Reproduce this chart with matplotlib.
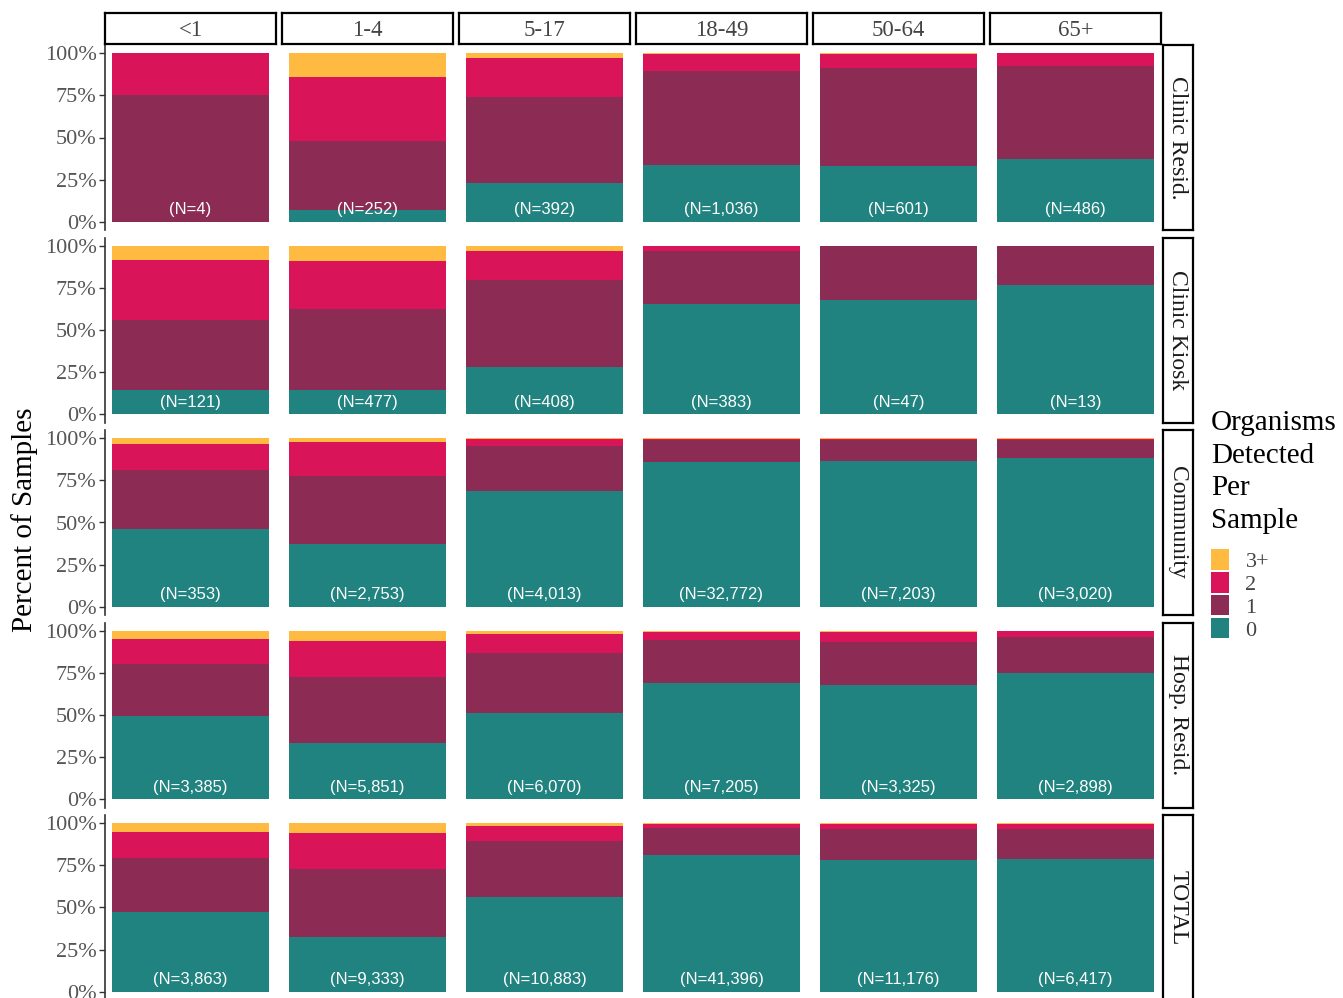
import matplotlib
matplotlib.use("Agg")
import matplotlib.pyplot as plt
from matplotlib.patches import Patch

# facets
ages = ["<1", "1-4", "5-17", "18-49", "50-64", "65+"]
sites = ["Clinic Resid.", "Clinic Kiosk", "Community", "Hosp. Resid.", "TOTAL"]
categories = ["0", "1", "2", "3+"]
colors = ["#21837F", "#8C2C55", "#DA1458", "#FFBA42"]

# percent of samples, one row per site, one value per age group
pct_0 = [[0, 7, 23, 33.4, 32.8, 37.1],
         [14.4, 14.4, 27.9, 65.3, 68.1, 76.9],
         [46.2, 37.1, 68.8, 86.0, 86.6, 88.4],
         [49.4, 33.4, 51.2, 68.9, 67.7, 75.0],
         [47.6, 32.7, 56.1, 81.0, 78.0, 78.6]]
pct_1 = [[75, 41, 51, 56.4, 58.7, 55.2],
         [41.7, 47.8, 51.6, 31.7, 31.9, 23.1],
         [35.3, 40.7, 26.5, 12.9, 12.3, 10.5],
         [31.1, 39.0, 35.8, 25.8, 25.6, 21.3],
         [32.0, 40.4, 33.5, 16.4, 18.8, 18.2]]
pct_2 = [[25, 38, 23, 9.9, 8.2, 7.7],
         [35.4, 28.8, 17.5, 3.0, 0, 0],
         [15.3, 19.8, 4.6, 1.0, 1.0, 1.0],
         [14.6, 21.5, 11.2, 4.9, 6.3, 3.6],
         [15.5, 21.4, 9.0, 2.4, 2.6, 3.1]]
pct_3 = [[0, 14, 3, 0.3, 0.3, 0],
         [8.5, 9.0, 3.0, 0, 0, 0],
         [3.2, 2.4, 0.1, 0.1, 0.1, 0.1],
         [4.9, 6.1, 1.8, 0.4, 0.4, 0.1],
         [4.9, 5.5, 1.4, 0.2, 0.6, 0.1]]
n_samples = [[4, 252, 392, 1036, 601, 486],
             [121, 477, 408, 383, 47, 13],
             [353, 2753, 4013, 32772, 7203, 3020],
             [3385, 5851, 6070, 7205, 3325, 2898],
             [3863, 9333, 10883, 41396, 11176, 6417]]

W, H = 1343, 998
fig = plt.figure(figsize=(W / 100, H / 100), dpi=100)
serif = "Liberation Serif"

def px_axes(x, y, w, h):
    return fig.add_axes([x / W, 1 - (y + h) / H, w / W, h / H])

col_x0, col_step, col_w = 105, 177, 171
row_y0, row_step, row_h = 45, 192.5, 185

for r, site in enumerate(sites):
    ytop = row_y0 + r * row_step
    for c, age in enumerate(ages):
        ax = px_axes(col_x0 + c * col_step, ytop, col_w, row_h)
        bottom = 0
        for vals, col in zip([pct_0, pct_1, pct_2, pct_3], colors):
            v = vals[r][c]
            ax.bar(0, v, width=0.9, bottom=bottom, color=col, linewidth=0)
            bottom += v
        ax.text(0, 7, f"(N={n_samples[r][c]:,})", ha="center", va="center",
                color="white", fontsize=12, family="Liberation Sans")
        ax.set_xlim(-0.493, 0.493)
        ax.set_ylim(-5, 105)
        ax.set_xticks([])
        for s in ["top", "right", "bottom"]:
            ax.spines[s].set_visible(False)
        if c == 0:
            ax.set_yticks([0, 25, 50, 75, 100])
            ax.set_yticklabels(["0%", "25%", "50%", "75%", "100%"],
                               family=serif, fontsize=16, color="#555555")
            ax.tick_params(axis="y", length=4, width=1, color="#333333", pad=2)
            ax.spines["left"].set_color("#333333")
            ax.spines["left"].set_linewidth(1.2)
        else:
            ax.set_yticks([])
            ax.spines["left"].set_visible(False)
        ax.patch.set_alpha(0)

        # column strip
        if r == 0:
            sax = px_axes(col_x0 + c * col_step, 13, col_w, 31)
            sax.set_xticks([]); sax.set_yticks([])
            for sp in sax.spines.values():
                sp.set_linewidth(1.6)
            sax.text(0.5, 0.45, age, ha="center", va="center",
                     family=serif, fontsize=16.5, color="#444444")

    # row strip
    rax = px_axes(1163, ytop, 30, row_h)
    rax.set_xticks([]); rax.set_yticks([])
    for sp in rax.spines.values():
        sp.set_linewidth(1.6)
    rax.text(0.5, 0.5, site, ha="center", va="center", rotation=-90,
             family=serif, fontsize=17, color="#1a1a1a")

fig.text(25 / W, 1 - 520 / H, "Percent of Samples", rotation=90,
         ha="center", va="center", family=serif, fontsize=21)

# legend
fig.text(1211 / W, 1 - 410 / H, "Organisms\nDetected\nPer\nSample",
         ha="left", va="top", family=serif, fontsize=21, linespacing=1.33)
handles = [Patch(facecolor=col, linewidth=0) for col in colors][::-1]
leg = fig.legend(handles, categories[::-1], loc="upper left",
                 bbox_to_anchor=(1211 / W, 1 - 549 / H), frameon=False,
                 prop={"family": serif, "size": 16},
                 handlelength=0.8, handleheight=1.05, labelspacing=0.0,
                 handletextpad=0.75, borderpad=0, borderaxespad=0)
for t in leg.get_texts():
    t.set_color("#444444")

fig.savefig("out.png", dpi=100)
